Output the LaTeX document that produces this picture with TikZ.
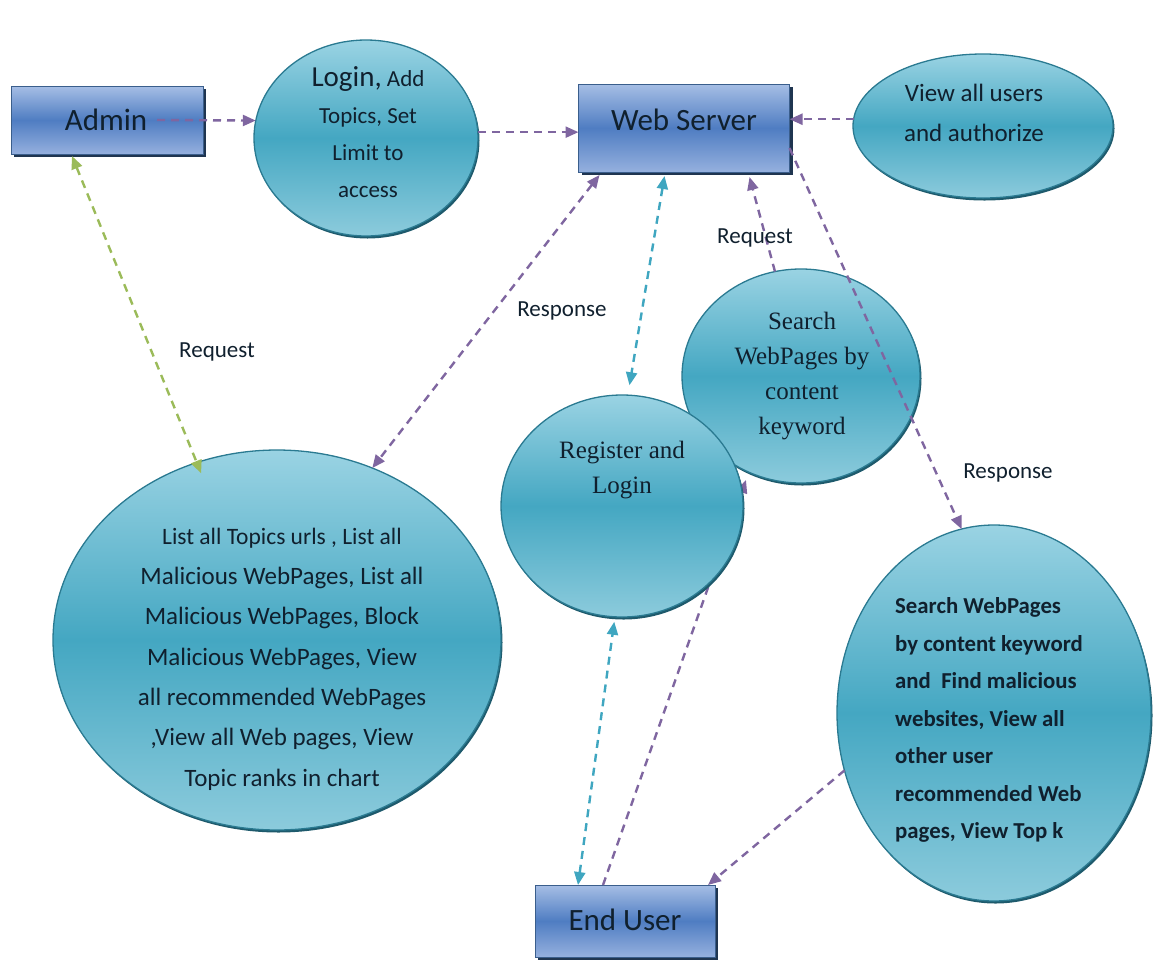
\documentclass[tikz,border=0pt]{standalone}
\usepackage{fontspec}
\setmainfont{Carlito}
\newfontfamily\cambria{Liberation Serif}
\usetikzlibrary{shapes.geometric,arrows.meta,shadows}

\definecolor{ellTop}{HTML}{9AD3E3}
\definecolor{ellMid}{HTML}{44A7C2}
\definecolor{ellBot}{HTML}{8CCBDC}
\definecolor{ellEdge}{HTML}{2A7A91}
\definecolor{ellShade}{HTML}{1E5A6C}
\definecolor{boxTop}{HTML}{A6BEE5}
\definecolor{boxMid}{HTML}{4F7DC2}
\definecolor{boxBot}{HTML}{95B0DE}
\definecolor{boxEdge}{HTML}{3A5E8C}
\definecolor{boxShade}{HTML}{1F3550}
\definecolor{inkDark}{HTML}{10202E}
\definecolor{arrPurple}{HTML}{7F66A0}
\definecolor{arrCyan}{HTML}{3FA6C0}
\definecolor{arrGreen}{HTML}{9BBB59}

\begin{document}
\begin{tikzpicture}[x=1pt,y=-1pt,
  >={Triangle[length=13pt,width=11pt]},
  bubble/.style={ellipse, inner sep=0pt, outer sep=0pt, draw=ellEdge, line width=1.3pt,
    top color=ellTop, bottom color=ellBot, middle color=ellMid,
    general shadow={fill=ellShade, shadow xshift=1.5pt, shadow yshift=-2.5pt}},
  actor/.style={rectangle, inner sep=0pt, outer sep=0pt, draw=boxEdge, line width=1pt,
    top color=boxTop, bottom color=boxBot, middle color=boxMid,
    general shadow={fill=boxShade, shadow xshift=3pt, shadow yshift=-3pt}},
  txt/.style={text=inkDark, inner sep=0pt, align=center},
  flow/.style={line width=2.4pt, dash pattern=on 8pt off 6pt},
  pflow/.style={flow, draw=arrPurple, color=arrPurple},
  cflow/.style={flow, draw=arrCyan, color=arrCyan},
  gflow/.style={flow, draw=arrGreen, color=arrGreen},
  lbl/.style={text=inkDark, inner sep=0pt, font=\fontsize{23}{28}\selectfont}
]
\useasboundingbox (0,0) rectangle (1156,959);

% actors
\node[actor, minimum width=192pt, minimum height=68pt] (admin) at (107,120) {};
\node[txt, font=\fontsize{31}{36}\selectfont] (admintxt) at (106,120) {Admin};
\node[actor, minimum width=211pt, minimum height=88pt] (web) at (684,128) {};
\node[txt, font=\fontsize{31}{36}\selectfont] (webtxt) at (684,120) {Web Server};
\node[actor, minimum width=180pt, minimum height=72pt] (enduser) at (625,921) {};
\node[txt, font=\fontsize{31}{36}\selectfont] (endtxt) at (625,920) {End User};

% process bubbles
\node[bubble, minimum width=224pt, minimum height=196pt] (login) at (366,138) {};
\node[txt, font=\fontsize{23}{37}\selectfont] (logintxt) at (368,132)
  {{\fontsize{29}{37}\selectfont Login,} Add\\Topics, Set\\Limit to\\access};

\node[bubble, minimum width=260pt, minimum height=144pt] (viewall) at (983,126) {};
\node[txt, font=\fontsize{25}{40}\selectfont] (viewtxt) at (974,113)
  {View all users\\and authorize};

\node[bubble, minimum width=238pt, minimum height=214pt] (search) at (801,376) {};
\node[txt, font=\cambria\fontsize{25}{35}\selectfont] (searchtxt) at (802,376)
  {Search\\WebPages by\\content\\keyword};

% user login request passes behind the register bubble
\coordinate (regtip) at (746,480);
\draw[pflow, ->] ([xshift=68pt]enduser.north west) -- (regtip);

\node[bubble, minimum width=242pt, minimum height=222pt] (reg) at (622,506) {};
\node[txt, font=\cambria\fontsize{25}{35}\selectfont] (regtxt) at (622,470)
  {Register and\\Login};

\node[bubble, minimum width=448pt, minimum height=380pt] (admfun) at (277,640) {};
\node[txt, font=\fontsize{25}{40.3}\selectfont] (admfuntxt) at (282,659)
  {{\fontsize{23.5}{40.3}\selectfont List all Topics urls , List all}\\
   Malicious WebPages, List all\\
   Malicious WebPages, Block\\
   Malicious WebPages, View\\
   all recommended WebPages\\
   ,View all Web pages, View\\
   Topic ranks in chart};

\node[bubble, minimum width=314pt, minimum height=376pt] (userfun) at (994,713) {};
\node[txt, anchor=west, align=left, font=\bfseries\fontsize{22.8}{37.5}\selectfont] (userfuntxt) at (895,720)
  {Search WebPages\\by content keyword\\and\ \ Find malicious\\websites, View all\\other user\\recommended Web\\pages, View Top k};

% connectors
\draw[pflow, ->] ([xshift=-46pt]admin.east) -- (login.171);
\draw[pflow, ->] (login.3) -- (login.3 -| web.west);
\draw[pflow, ->] (viewall.177) -- (viewall.177 -| web.east);
\draw[gflow, <->] ([xshift=-35pt,yshift=-2pt]admin.south) -- ([yshift=-12pt]admfun.113);
\draw[pflow, <->] ([xshift=21pt,yshift=-3pt]web.south west) -- (admfun.61);
\draw[cflow, <->, shorten >=10pt] ([xshift=86pt,yshift=-4pt]web.south west) -- (reg.87);
\draw[pflow, ->] (search.104) -- ([xshift=171pt,yshift=-5pt]web.south west);
\draw[pflow, ->] ([yshift=-20pt]web.east) -- (userfun.100);
\draw[cflow, <->] ([xshift=43pt]enduser.north west) -- ([yshift=-5pt]reg.266);
\draw[pflow, ->] (userfun.201) -- ([xshift=-7pt]enduser.north east);

% flow labels
\node[lbl] (req1) at (217,352) {Request};
\node[lbl] (resp1) at (562,311) {Response};
\node[lbl] (req2) at (755,238) {Request};
\node[lbl] (resp2) at (1008,473) {Response};
\end{tikzpicture}
\end{document}
